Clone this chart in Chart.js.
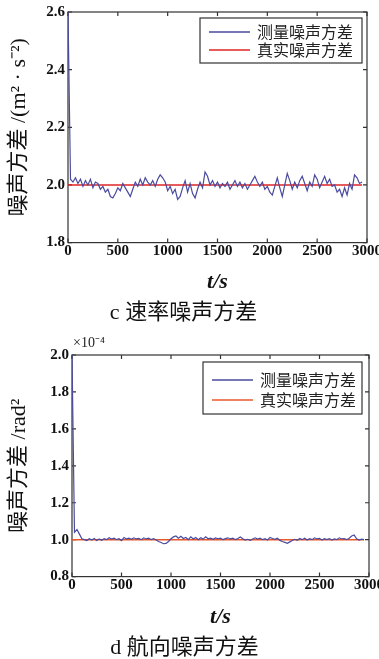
<!DOCTYPE html>
<html>
<head>
<meta charset="utf-8">
<title>噪声方差</title>
<script src="https://cdn.jsdelivr.net/npm/chart.js@4.4.1/dist/chart.umd.min.js"></script>
<style>
  html, body { margin: 0; padding: 0; background: #fff; overflow: hidden; }
  body { width: 379px; height: 659px; position: relative; }
  canvas { position: absolute; left: 0; }
  #speedChart { top: 0; }
  #headingChart { top: 330px; }
</style>
</head>
<body>
<canvas id="speedChart" width="400" height="330"></canvas>
<canvas id="headingChart" width="400" height="335"></canvas>
<script>
/* ================= DATA ================= */
// sample times of the estimator, one every 25 s
const timeS = Array.from({ length: 119 }, (_, i) => i * 25);

// c: speed noise variance, m^2/s^2
const speedMeasured = [
  2.60, 2.02, 2.01, 2.025, 2.005, 2.02, 1.995, 2.015, 2.00, 2.02,
  1.99, 2.01, 2.005, 1.985, 1.995, 1.975, 1.985, 1.96, 1.955, 1.97,
  1.99, 1.98, 2.005, 1.99, 1.975, 1.96, 1.985, 2.01, 1.995, 2.02,
  2.00, 2.025, 2.01, 2.00, 2.015, 1.995, 2.02, 2.035, 2.025, 2.01,
  1.98, 1.995, 1.97, 1.985, 1.95, 1.96, 1.99, 2.015, 1.975, 2.005,
  1.97, 1.955, 1.985, 2.01, 1.99, 2.045, 2.03, 2.00, 2.015, 1.995,
  2.01, 1.99, 2.005, 1.995, 2.01, 1.985, 2.00, 2.015, 1.995, 2.01,
  1.99, 2.005, 1.985, 2.00, 2.015, 2.03, 2.01, 1.995, 2.01, 1.985,
  1.995, 1.975, 1.965, 1.995, 2.025, 1.99, 1.96, 2.00, 2.04, 2.015,
  1.985, 2.01, 1.99, 2.015, 2.03, 2.005, 1.98, 2.01, 1.995, 2.035,
  2.02, 1.99, 2.01, 2.03, 2.005, 2.02, 1.995, 2.00, 1.975, 1.985,
  1.96, 1.99, 1.965, 2.005, 1.985, 2.035, 2.025, 2.005, 2.01
];

// d: heading noise variance, in units of 1e-4 rad^2
const headingMeasured = [
  2.00, 1.04, 1.055, 1.03, 1.005, 1.00, 0.995, 1.005, 0.998, 1.006,
  0.995, 1.004, 0.997, 1.005, 1.00, 1.01, 1.003, 1.008, 1.00, 1.005,
  0.995, 1.012, 1.004, 1.008, 1.002, 1.01, 1.004, 1.007, 1.00, 1.01,
  1.004, 1.008, 1.00, 1.006, 0.998, 0.99, 0.985, 0.978, 0.98, 0.99,
  1.005, 1.015, 1.02, 1.008, 1.018, 1.006, 1.012, 1.00, 1.015, 1.004,
  1.012, 1.00, 1.01, 1.003, 1.016, 1.005, 1.008, 1.002, 1.01, 1.005,
  1.008, 1.00, 1.006, 1.01, 1.004, 1.008, 1.00, 1.006, 1.015, 1.005,
  0.998, 1.002, 0.996, 1.004, 1.01, 1.003, 1.008, 1.00, 1.005, 0.998,
  1.012, 1.006, 1.002, 1.008, 0.996, 0.99, 0.985, 0.98, 0.988, 0.995,
  1.002, 0.996, 1.006, 1.00, 1.008, 0.998, 1.005, 1.00, 1.01, 1.004,
  1.007, 0.998, 1.005, 1.00, 1.006, 0.998, 1.004, 1.00, 1.01, 1.004,
  1.006, 1.00, 1.008, 1.02, 1.025, 1.005, 0.998, 1.003, 1.00
];

const trueTime = [0, 2950];
const speedTrue = [2.0, 2.0];
const headingTrue = [1.0, 1.0];

const xTicks = [0, 500, 1000, 1500, 2000, 2500, 3000];
const speedTicks = [1.8, 2.0, 2.2, 2.4, 2.6];
const headingTicks = [0.8, 1.0, 1.2, 1.4, 1.6, 1.8, 2.0];
const seriesNames = ['测量噪声方差', '真实噪声方差'];

/* ================= STYLE ================= */
const SERIF = '"Liberation Serif", "Noto Sans CJK SC", serif';
const CJK = '"Noto Sans CJK SC", "Liberation Serif", sans-serif';
const BLUE = '#4a4a9e';
const FRAME = '#333333';

function toPoints(xs, ys) {
  return ys.map((y, i) => ({ x: xs[i], y: y }));
}

/* ================= FRAME + LEGEND PLUGIN ================= */
// matlab-ish box with inward ticks on all four sides, legend inside top right
const framePlugin = {
  id: 'frame',
  beforeDatasetsDraw(chart) {
    const { ctx, chartArea: a, scales } = chart;
    ctx.save();
    ctx.strokeStyle = FRAME;
    ctx.lineWidth = 1.2;
    ctx.strokeRect(a.left, a.top, a.width, a.height);
    ctx.beginPath();
    scales.x.ticks.forEach(t => {
      const px = scales.x.getPixelForValue(t.value);
      ctx.moveTo(px, a.bottom); ctx.lineTo(px, a.bottom - 4);
      ctx.moveTo(px, a.top); ctx.lineTo(px, a.top + 4);
    });
    scales.y.ticks.forEach(t => {
      const py = scales.y.getPixelForValue(t.value);
      ctx.moveTo(a.left, py); ctx.lineTo(a.left + 4, py);
      ctx.moveTo(a.right, py); ctx.lineTo(a.right - 4, py);
    });
    ctx.stroke();
    ctx.restore();
  },
  afterDatasetsDraw(chart, args, opts) {
    const { ctx, chartArea: a } = chart;
    ctx.save();
    const bx = a.right - opts.right - opts.width;
    const by = a.top + opts.top;
    ctx.fillStyle = '#fff';
    ctx.fillRect(bx, by, opts.width, opts.height);
    ctx.strokeStyle = FRAME;
    ctx.lineWidth = 1.2;
    ctx.strokeRect(bx, by, opts.width, opts.height);

    ctx.font = '16px ' + CJK;
    ctx.textBaseline = 'middle';
    ctx.textAlign = 'left';
    chart.data.datasets.forEach((ds, i) => {
      const y = by + opts.firstRow + i * opts.rowGap;
      ctx.strokeStyle = ds.borderColor;
      ctx.lineWidth = 1.3;
      ctx.beginPath();
      ctx.moveTo(bx + 9, y);
      ctx.lineTo(bx + 50, y);
      ctx.stroke();
      ctx.fillStyle = '#222';
      ctx.fillText(ds.label, bx + 57, y);
    });

    if (opts.exponent) {
      ctx.font = '14px ' + SERIF;
      ctx.fillStyle = '#222';
      ctx.textBaseline = 'middle';
      ctx.fillText(opts.exponent, a.left + 1, a.top - 12);
    }
    ctx.restore();
  }
};

/* ================= CHART BUILDER ================= */
function makeChart(id, cfg) {
  const ctx = document.getElementById(id).getContext('2d');
  return new Chart(ctx, {
    type: 'line',
    data: {
      datasets: [{
        label: seriesNames[0],
        data: toPoints(timeS, cfg.measured),
        borderColor: BLUE,
        borderWidth: 1.2,
        pointRadius: 0,
        tension: 0
      }, {
        label: seriesNames[1],
        data: toPoints(trueTime, cfg.truth),
        borderColor: cfg.red,
        borderWidth: 1.5,
        pointRadius: 0,
        tension: 0
      }]
    },
    options: {
      responsive: false,
      animation: false,
      devicePixelRatio: 1,
      layout: { padding: cfg.padding },
      plugins: {
        legend: { display: false },
        tooltip: { enabled: false },
        title: {
          display: true,
          position: 'bottom',
          text: cfg.caption,
          color: '#111',
          font: { family: SERIF, size: 22, weight: 'normal', lineHeight: 1.2 },
          padding: { top: 3, bottom: 4 }
        },
        frame: cfg.legend
      },
      scales: {
        x: {
          type: 'linear',
          min: 0,
          max: 3000,
          grid: { display: false, drawTicks: false },
          border: { display: false },
          afterBuildTicks: s => { s.ticks = xTicks.map(v => ({ value: v })); },
          afterFit: s => { s.height = cfg.xHeight; },
          ticks: {
            autoSkip: false,
            maxRotation: 0,
            padding: 0,
            color: '#111',
            font: { family: SERIF, size: 15, weight: 'bold' },
            callback: v => String(v)
          },
          title: {
            display: true,
            text: 't/s',
            color: '#111',
            font: { family: SERIF, size: 22, weight: 'bold', style: 'italic', lineHeight: 1.2 },
            padding: { top: 0, bottom: 1 }
          }
        },
        y: {
          min: cfg.yTicks[0],
          max: cfg.yTicks[cfg.yTicks.length - 1],
          grid: { display: false, drawTicks: false },
          border: { display: false },
          afterBuildTicks: s => { s.ticks = cfg.yTicks.map(v => ({ value: v })); },
          afterFit: s => { s.width = cfg.yWidth; },
          ticks: {
            padding: 3,
            color: '#111',
            font: { family: SERIF, size: 15, weight: 'bold' },
            callback: v => v.toFixed(1)
          },
          title: {
            display: true,
            text: cfg.yTitle,
            color: '#111',
            font: { family: SERIF, size: 22, weight: 'normal', lineHeight: 1.2 },
            padding: { top: 6, bottom: 0 }
          }
        }
      }
    },
    plugins: [framePlugin]
  });
}

/* ================= INIT ================= */
makeChart('speedChart', {
  measured: speedMeasured,
  truth: speedTrue,
  red: '#e02424',
  yTicks: speedTicks,
  yTitle: '噪声方差 /(m² · s⁻²)',
  caption: 'c 速率噪声方差',
  padding: { top: 12, right: 33, bottom: 0, left: 0 },
  yWidth: 68,
  xHeight: 54,
  legend: { right: 5, top: 6, width: 162, height: 45, firstRow: 14, rowGap: 18 }
});

makeChart('headingChart', {
  measured: headingMeasured,
  truth: headingTrue,
  red: '#e8582a',
  yTicks: headingTicks,
  yTitle: '噪声方差 /rad²',
  caption: 'd 航向噪声方差',
  padding: { top: 25, right: 31, bottom: 0, left: 0 },
  yWidth: 72,
  xHeight: 55,
  legend: { right: 7, top: 7, width: 159, height: 52, firstRow: 18, rowGap: 20, exponent: '×10⁻⁴' }
});
</script>
</body>
</html>
